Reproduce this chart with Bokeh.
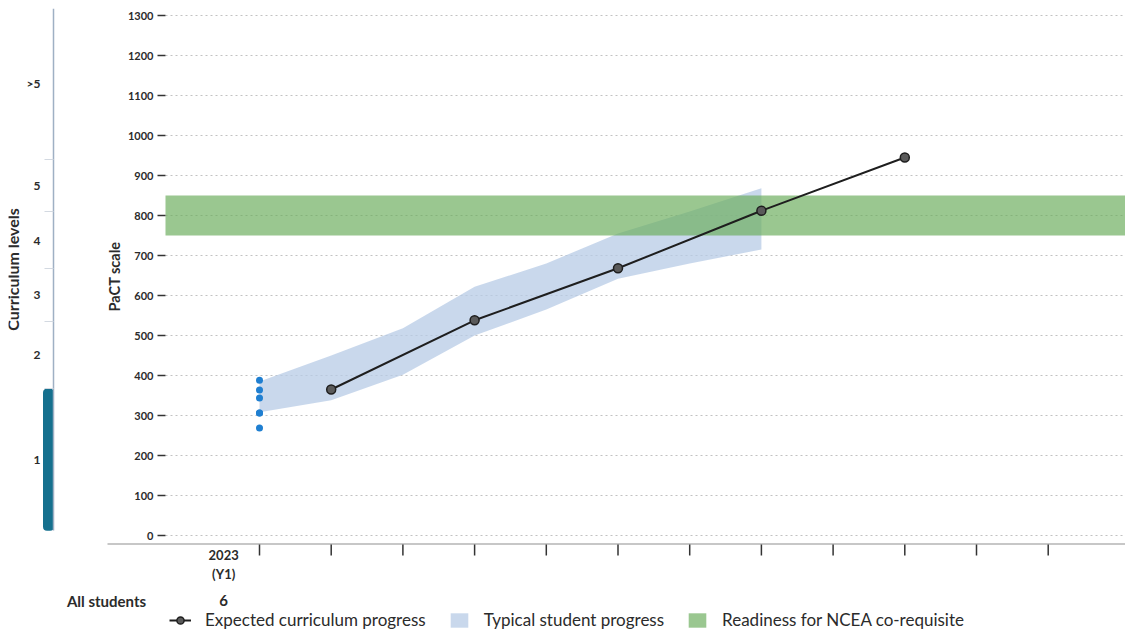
from bokeh.plotting import figure
from bokeh.models import (LinearAxis, FixedTicker, Grid, Legend, LegendItem, Range1d, Quad)
from bokeh.core.properties import value
from bokeh.embed import file_html
from bokeh.resources import INLINE

# ---------------- data ----------------
period_ticks = list(range(12))            # x-axis periods (tick positions)
period_label_pos = [-0.5]                 # column of the "2023 (Y1)" header
period_labels = ["2023\n(Y1)"]
row_name = "All students"
row_counts = ["6"]

student_x = [0, 0, 0, 0, 0, 0]
student_scores = [388, 364, 344, 306, 306, 269]

expected_x = [1, 3, 5, 7, 9]
expected_scores = [365, 538, 668, 812, 945]

typical_x = [0, 1, 2, 3, 4, 5, 6, 7]
typical_low = [308, 338, 402, 500, 565, 642, 680, 715]
typical_high = [385, 450, 518, 622, 680, 755, 810, 868]

ncea_low, ncea_high = 750, 850

pact_ticks = list(range(0, 1301, 100))

level_bounds = [12, 367, 536, 667, 810, 940, 1320]
level_labels = ["1", "2", "3", "4", "5", ">5"]

# ---------------- layout constants ----------------
MARGIN = 8
FRAME_W, FRAME_H = 1117, 628
PX_PER_X = 71.7
PX_PER_Y = 0.4
X_START = -251 / PX_PER_X
X_END = X_START + FRAME_W / PX_PER_X
Y_END = 1317.5
Y_START = Y_END - FRAME_H / PX_PER_Y
AXIS_BOTTOM = -22.5          # value at the x-axis base line


def px_to_x(px):
    return X_START + (px - MARGIN) / PX_PER_X


def py_to_y(py):
    return Y_END - (py - MARGIN) / PX_PER_Y


FONT = "Lato"
TXT = "#2b2b2b"

p = figure(frame_width=FRAME_W, frame_height=FRAME_H,
           x_range=Range1d(X_START, X_END), y_range=Range1d(Y_START, Y_END),
           output_backend="svg", toolbar_location=None,
           x_axis_location=None, y_axis_location=None,
           min_border_left=MARGIN, min_border_right=0, min_border_top=MARGIN,
           min_border_bottom=0)
p.center = []
p.outline_line_color = None
p.background_fill_color = "white"
p.border_fill_color = "white"

grid_left = px_to_x(165)

# dotted horizontal gridlines
pact_ticker = FixedTicker(ticks=pact_ticks)
if "cross_bounds" in Grid.properties():
    g = Grid(dimension=1, ticker=pact_ticker, cross_bounds=(grid_left, X_END),
             grid_line_color="#c2c2c2", grid_line_dash="2 3", grid_line_width=1.2)
    p.add_layout(g)
else:
    p.segment(x0=[grid_left] * len(pact_ticks), y0=pact_ticks,
              x1=[X_END] * len(pact_ticks), y1=pact_ticks,
              line_color="#c2c2c2", line_dash="2 3", line_width=1.2)

# x-axis base line (starts left of the plot area)
p.segment(x0=[px_to_x(107)], y0=[AXIS_BOTTOM + 1.2], x1=[X_END], y1=[AXIS_BOTTOM + 1.2],
          line_color="#b5b5b5", line_width=1.5)

# x-axis period ticks
tick_len = 11 / PX_PER_Y
p.segment(x0=period_ticks, y0=[AXIS_BOTTOM] * len(period_ticks),
          x1=period_ticks, y1=[AXIS_BOTTOM - tick_len] * len(period_ticks),
          line_color="#333333", line_width=1.5)

# column header and table row
p.text(x=period_label_pos, y=[py_to_y(564)] * len(period_label_pos), text=period_labels,
       text_align="center", text_baseline="middle", text_font=value(FONT),
       text_font_size="13px", text_font_style="bold", text_color=TXT)
row_x = [px_to_x(106)] + period_label_pos
row_text = [row_name] + row_counts
p.text(x=row_x, y=[py_to_y(600)] * len(row_x), text=row_text,
       text_align="center", text_baseline="middle", text_font=value(FONT),
       text_font_size="15px", text_font_style="bold", text_color=TXT)

# typical student progress band
band_r = p.varea(x=typical_x, y1=typical_low, y2=typical_high,
                 fill_color="#b7cbe6", fill_alpha=0.75)

# NCEA readiness band
green_r = p.quad(left=[grid_left], right=[X_END], bottom=[ncea_low], top=[ncea_high],
                 fill_color="#6aad5c", fill_alpha=0.68, line_color=None)

# expected curriculum progress
line_r = p.line(expected_x, expected_scores, line_color="#1e1e1e", line_width=2)
dot_r = p.scatter(expected_x, expected_scores, size=9, fill_color="#5a5a5a",
                  line_color="#1e1e1e", line_width=1.5)

# students
p.scatter(student_x, student_scores, size=7, fill_color="#1f7fd1", line_color=None)

# curriculum level-1 bar
qkw = dict(left=[px_to_x(42.5)], right=[px_to_x(53.5)], bottom=[level_bounds[0]],
           top=[level_bounds[1]], fill_color="#15708e", line_color=None)
if "border_radius" in Quad.properties():
    qkw["border_radius"] = 4
p.quad(**qkw)

# curriculum levels axis
level_mids = [(a + b) / 2 for a, b in zip(level_bounds[:-1], level_bounds[1:])]
cur_axis = LinearAxis(
    ticker=FixedTicker(ticks=level_mids, minor_ticks=level_bounds[1:-1]),
    fixed_location=px_to_x(53),
    bounds=(level_bounds[0], level_bounds[-1]),
    major_label_overrides={m: l for m, l in zip(level_mids, level_labels)},
    axis_line_color="#9fb0c4", axis_line_width=1.5,
    major_tick_out=0, major_tick_in=0,
    minor_tick_out=9, minor_tick_in=0, minor_tick_line_color="#d3d9e1",
    major_label_standoff=4,
    major_label_text_font=FONT, major_label_text_font_size="12px",
    major_label_text_font_style="bold", major_label_text_color=TXT,
    axis_label="Curriculum levels", axis_label_standoff=2,
    axis_label_text_font=FONT, axis_label_text_font_size="16px",
    axis_label_text_font_style="bold", axis_label_text_color=TXT,
)
p.add_layout(cur_axis, "left")

# PaCT axis
pact_axis = LinearAxis(
    ticker=pact_ticker, fixed_location=grid_left,
    bounds=(AXIS_BOTTOM, Y_END),
    axis_line_color=None,
    major_tick_out=8, major_tick_in=0, major_tick_line_color="#333333",
    major_tick_line_width=1.5, minor_tick_out=0, minor_tick_in=0,
    major_label_standoff=4,
    major_label_text_font=FONT, major_label_text_font_size="11px",
    major_label_text_font_style="bold", major_label_text_color=TXT,
    axis_label="PaCT scale", axis_label_standoff=2,
    axis_label_text_font=FONT, axis_label_text_font_size="14.5px",
    axis_label_text_font_style="bold", axis_label_text_color=TXT,
)
p.add_layout(pact_axis, "left")

# legend inside the (extended) frame, near its bottom
legend = Legend(
    items=[LegendItem(label="Expected curriculum progress", renderers=[line_r, dot_r]),
           LegendItem(label="Typical student progress", renderers=[band_r]),
           LegendItem(label="Readiness for NCEA co-requisite", renderers=[green_r])],
    orientation="horizontal", location=(161, 6),
    border_line_color=None, background_fill_alpha=0,
    label_text_font=FONT, label_text_font_size="17px", label_text_color=TXT,
    glyph_width=22, glyph_height=18, label_standoff=14, spacing=22,
    padding=2, margin=0,
)
p.add_layout(legend)

open("out.html", "w").write(file_html(p, INLINE))
